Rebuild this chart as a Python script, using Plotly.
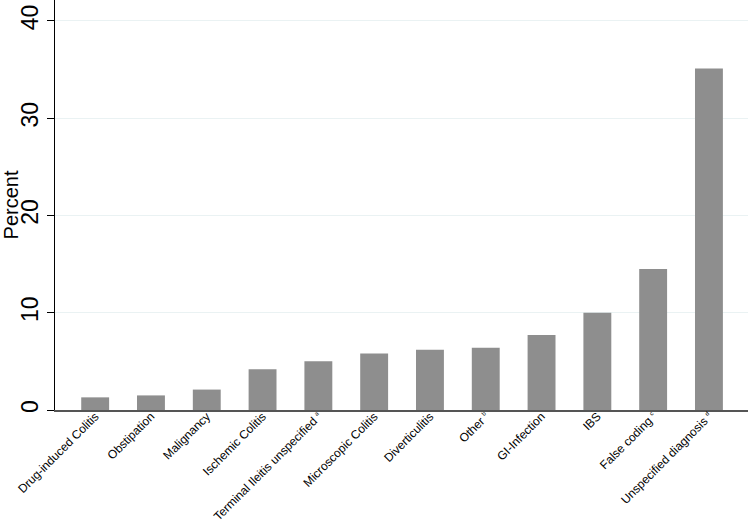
import plotly.graph_objects as go

def sup(t):
    return "<sup><span style='font-size:6px'>" + t + "</span></sup>"

categories = [
    "Drug-induced Colitis", "Obstipation", "Malignancy", "Ischemic Colitis",
    "Terminal Ileitis unspecified " + sup("a"), "Microscopic Colitis", "Diverticulitis",
    "Other " + sup("b"), "GI-Infection", "IBS", "False coding " + sup("c"),
    "Unspecified diagnosis " + sup("d"),
]
percent = [1.3, 1.5, 2.1, 4.2, 5.0, 5.8, 6.2, 6.4, 7.7, 10.0, 14.5, 35.1]
y_ticks = [0, 10, 20, 30, 40]

FONT = "Liberation Sans Narrow, Arial Narrow, Liberation Sans, Arial, sans-serif"

fig = go.Figure(go.Bar(
    x=categories, y=percent,
    marker=dict(color="#8e8e8e", line=dict(width=0)),
))

fig.update_layout(
    width=750, height=525,
    margin=dict(l=55, r=2, t=0, b=115),
    paper_bgcolor="white", plot_bgcolor="white",
    bargap=0.5, showlegend=False,
    font=dict(family=FONT, color="black"),
)
fig.update_xaxes(
    range=[-0.72, 11.7], tickangle=-45, tickfont=dict(size=12),
    showline=True, linecolor="#555555", linewidth=1.5, ticks="",
    showgrid=False, automargin=False, ticklabelstandoff=-7,
)
fig.update_yaxes(
    range=[0, 42.15], tickvals=y_ticks, tickangle=-90, tickfont=dict(size=23),
    showline=True, linecolor="black", linewidth=1, ticks="outside", ticklen=7,
    tickcolor="black", showgrid=True, gridcolor="#eaf2f3", gridwidth=1,
    zeroline=False, automargin=False,
    title=dict(text="Percent", font=dict(size=20), standoff=6),
)

fig.write_html(
    "out.html",
    config={"displayModeBar": False},
    post_script="document.body.style.margin='0';document.body.style.overflow='hidden';",
)
